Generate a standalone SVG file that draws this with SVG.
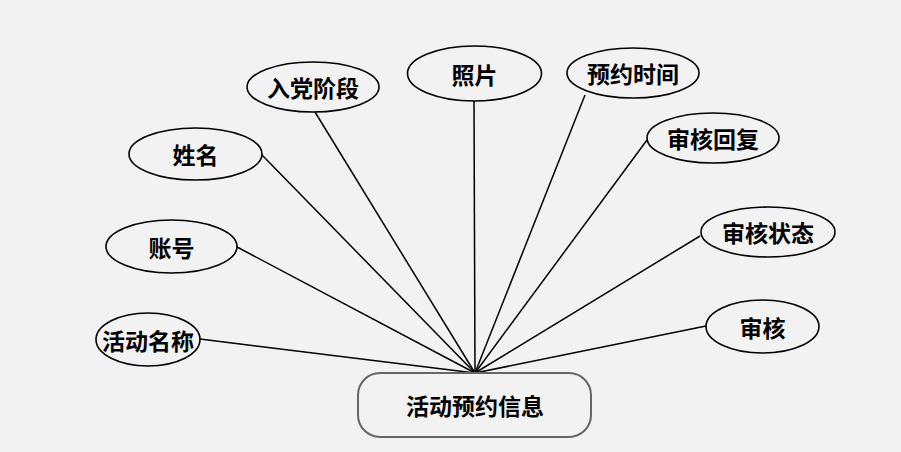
<svg xmlns="http://www.w3.org/2000/svg" width="901" height="452" viewBox="0 0 901 452">
<style>
.bg{fill:#f2f2f2}
.attr ellipse{fill:#f2f2f2;stroke:#000;stroke-width:1.6}
.ent rect{fill:#f2f2f2;stroke:#666;stroke-width:2}
text{font-family:"Noto Sans CJK SC","Noto Sans CJK JP",sans-serif;font-size:23px;font-weight:bold;text-anchor:middle;dominant-baseline:central;fill:#000}
#connectors line{stroke:#000;stroke-width:1.5}
</style>
<rect class="bg" x="0" y="0" width="901" height="452"/>
<g id="connectors">
<line x1="200" y1="339" x2="475" y2="373"/>
<line x1="237" y1="247" x2="475" y2="373"/>
<line x1="262" y1="155" x2="475" y2="373"/>
<line x1="315" y1="112" x2="475" y2="373"/>
<line x1="474" y1="101" x2="475" y2="373"/>
<line x1="585" y1="95" x2="475" y2="373"/>
<line x1="647" y1="140" x2="475" y2="373"/>
<line x1="700" y1="236" x2="475" y2="373"/>
<line x1="706" y1="326" x2="475" y2="373"/>
</g>
<g id="entity" class="ent">
<rect x="358" y="373" width="233" height="64" rx="22"/>
<text x="475" y="405">活动预约信息</text>
</g>
<g id="n-name" class="attr"><ellipse cx="148" cy="339.5" rx="52" ry="26.5"/><text x="148" y="339.5">活动名称</text></g>
<g id="n-account" class="attr"><ellipse cx="171.5" cy="246.5" rx="65.5" ry="26.5"/><text x="171.5" y="246.5">账号</text></g>
<g id="n-xingming" class="attr"><ellipse cx="195.5" cy="154" rx="66.5" ry="26"/><text x="195.5" y="154">姓名</text></g>
<g id="n-stage" class="attr"><ellipse cx="313" cy="87" rx="66" ry="25"/><text x="313" y="87">入党阶段</text></g>
<g id="n-photo" class="attr"><ellipse cx="474.5" cy="73.5" rx="67" ry="27.5"/><text x="474.5" y="73.5">照片</text></g>
<g id="n-time" class="attr"><ellipse cx="633" cy="73" rx="66" ry="25"/><text x="633" y="73">预约时间</text></g>
<g id="n-reply" class="attr"><ellipse cx="713" cy="138" rx="66" ry="25"/><text x="713" y="138">审核回复</text></g>
<g id="n-status" class="attr"><ellipse cx="768" cy="232" rx="67" ry="25"/><text x="768" y="232">审核状态</text></g>
<g id="n-audit" class="attr"><ellipse cx="762.5" cy="326.5" rx="56.5" ry="26.5"/><text x="762.5" y="326.5">审核</text></g>
</svg>
